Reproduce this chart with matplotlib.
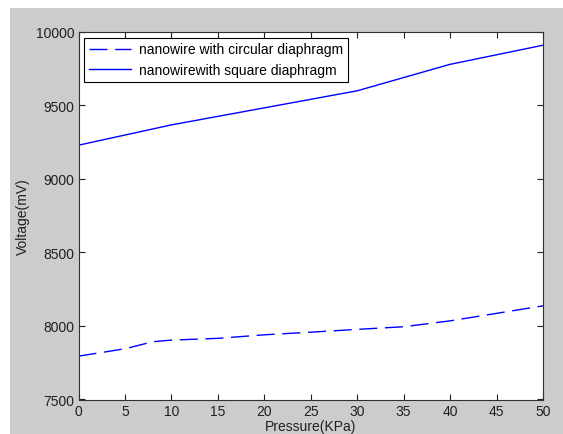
import matplotlib.pyplot as plt
from matplotlib.patches import Rectangle

# data
pressure_circ = [0, 5, 8, 10, 15, 20, 25, 30, 35, 40, 45, 50]
voltage_circ = [7795, 7845, 7893, 7904, 7916, 7940, 7958, 7977, 7995, 8035, 8086, 8137]

pressure_sq = [0, 10, 20, 30, 40, 50]
voltage_sq = [9230, 9368, 9484, 9600, 9780, 9910]

x_ticks = [0, 5, 10, 15, 20, 25, 30, 35, 40, 45, 50]
y_ticks = [7500, 8000, 8500, 9000, 9500, 10000]

plt.rcParams['font.family'] = ['Liberation Sans', 'DejaVu Sans']

W, H = 563, 435
fig = plt.figure(figsize=(W / 100, H / 100), dpi=100, facecolor='white')
# gray MATLAB-like figure background, image cropped so a white margin shows top-left
fig.patches.append(Rectangle((10 / W, 0), 1 - 10 / W, 1 - 9 / H,
                             transform=fig.transFigure, facecolor='#cccccc',
                             edgecolor='none', zorder=-10))

left, right, top, bottom = 78.5, 543, 33, 400.5
ax = fig.add_axes([left / W, 1 - bottom / H, (right - left) / W, (bottom - top) / H])
ax.set_facecolor('white')

ax.plot(pressure_circ, voltage_circ, color='blue', linestyle=(0, (13, 5.5)), linewidth=1,
        label='nanowire with circular diaphragm')
ax.plot(pressure_sq, voltage_sq, color='blue', linestyle='-', linewidth=1,
        label='nanowirewith square diaphragm')

ax.set_xlim(0, 50)
ax.set_ylim(7500, 10000)
ax.set_xticks(x_ticks)
ax.set_yticks(y_ticks)
ax.tick_params(direction='in', length=4.5, width=0.8, top=True, right=True,
               labelsize=10, colors='#202020', pad=3)
for s in ax.spines.values():
    s.set_color('#303030')
    s.set_linewidth(0.8)

ax.set_xlabel('Pressure(KPa)', fontsize=10, color='#202020', labelpad=1)
ax.set_ylabel('Voltage(mV)', fontsize=10, color='#202020', labelpad=4)

leg = ax.legend(loc='upper left', fontsize=10, frameon=True, fancybox=False,
                framealpha=1, edgecolor='black', borderaxespad=0.4,
                handlelength=3.0, handletextpad=0.6, borderpad=0.35,
                labelspacing=0.5)
leg.get_frame().set_linewidth(0.8)

fig.savefig('out.png', dpi=100, facecolor=fig.get_facecolor())
